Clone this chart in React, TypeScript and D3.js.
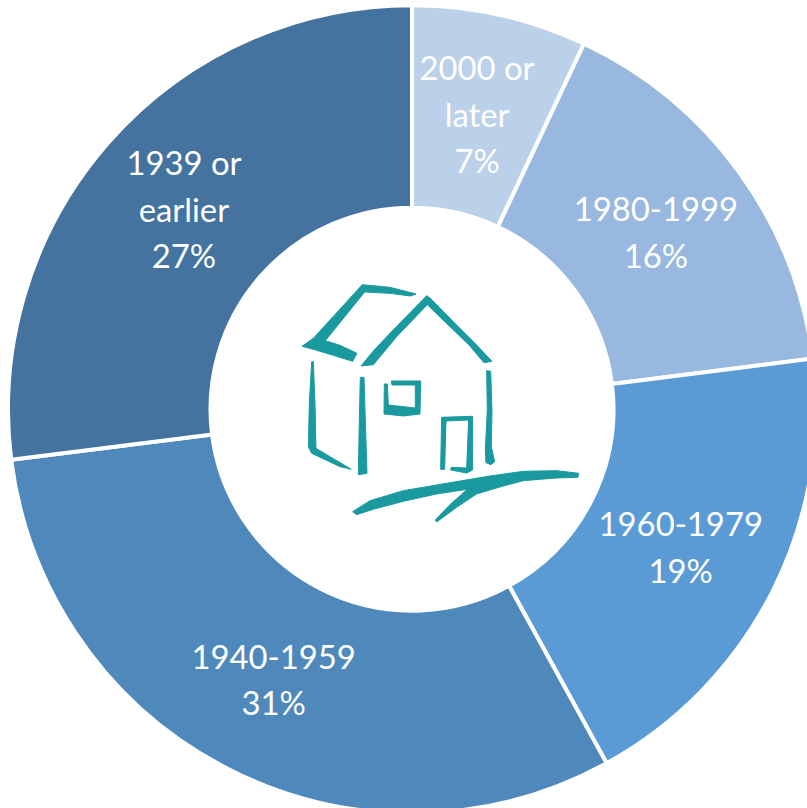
import React from "react";
import * as d3 from "d3";

const categories = ["2000 or later", "1980-1999", "1960-1979", "1940-1959", "1939 or earlier"];
const values = [7, 16, 19, 31, 27];
const labelLines = [["2000 or", "later", "7%"], ["1980-1999", "16%"], ["1960-1979", "19%"], ["1940-1959", "31%"], ["1939 or", "earlier", "27%"]];
const colors = ["#BBD0E9", "#98B8DF", "#5B9BD5", "#4F89BC", "#44739F"];

// Hand-drawn house logo outlines, traced in logo-local units (zoomed crop pixels)
const houseStrokes = [
  "M36,229 L70,205 L217,44 L300,52 L378,72 L362,78 L300,70 L224,66 L106,212 L150,226 L201,250 L188,274 L130,256 L70,238 Z",
  "M213,288 L250,243 L300,190 L410,77 L420,84 L500,165 L560,225 L606,274 L582,278 L540,228 L480,170 L412,104 L320,200 L250,284 Z",
  "M65,275 L70,275 L75,400 L78,535 L120,560 L184,598 L150,590 L65,550 L55,530 L58,400 Z",
  "M211,322 L222,322 L226,450 L231,610 L205,614 L208,450 Z",
  "M590,302 L602,304 L606,420 L604,530 L614,575 L603,584 L588,578 L586,540 L592,420 Z",
  "M283,342 L292,342 L295,405 L376,414 L376,345 L306,345 L304,333 L392,333 L390,432 L340,438 L282,432 Z",
  "M455,442 L548,439 L548,600 L530,609 L482,600 L484,592 L530,594 L536,450 L468,453 L464,598 L452,598 Z",
  "M188,725 L240,692 L340,662 L470,640 L600,618 L700,604 L800,602 L866,610 L864,622 L800,624 L700,632 L640,648 L560,672 L500,712 L440,756 L436,750 L480,704 L532,658 L440,672 L340,694 L250,718 L200,734 Z",
];
const logoTeal = "#1A9A9F";

const WIDTH = 807;
const HEIGHT = 808;
const CX = 412;
const CY = 409.2;
const OUTER = 404;
const INNER = 201.5;
const LINE_HEIGHT = 46.5;

export default function App() {
  const pie = d3.pie<number>().sort(null)(values);
  const arc = d3.arc<d3.PieArcDatum<number>>().innerRadius(INNER).outerRadius(OUTER);
  return (
    <svg width={WIDTH} height={HEIGHT} style={{ position: "absolute", left: 0, top: 0, background: "#fff" }}>
      <g transform={`translate(${CX},${CY})`}>
        {pie.map((d, i) => (
          <path key={categories[i]} d={arc(d) ?? ""} fill={colors[i]} stroke="#fff" strokeWidth={4} />
        ))}
        {pie.map((d, i) => {
          const [x, y] = arc.centroid(d);
          const lines = labelLines[i];
          return (
            <text key={categories[i]} textAnchor="middle" fill="#fff" fontFamily="Lato, 'Open Sans', sans-serif" fontSize={32.8}>
              {lines.map((t, j) => (
                <tspan key={t} x={x - 1} y={y + (j - (lines.length - 1) / 2) * LINE_HEIGHT + 13}>{t}</tspan>
              ))}
            </text>
          );
        })}
      </g>
      <g transform="translate(290,270) scale(0.3333)" fill={logoTeal} stroke={logoTeal} strokeWidth={3} strokeLinejoin="round">
        {houseStrokes.map((p) => (
          <path key={p} d={p} />
        ))}
      </g>
    </svg>
  );
}
